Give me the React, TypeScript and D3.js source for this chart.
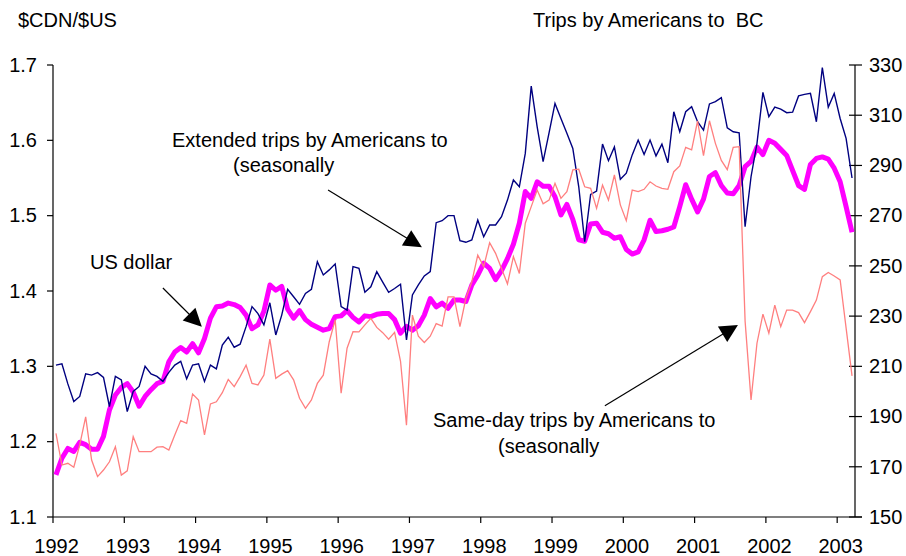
import React from 'react';
import * as d3 from 'd3';

// Monthly series, Jan 1992 .. Mar 2003
const years = ['1992', '1993', '1994', '1995', '1996', '1997', '1998', '1999', '2000', '2001', '2002', '2003'];
const leftTicks = [1.1, 1.2, 1.3, 1.4, 1.5, 1.6, 1.7];
const rightTicks = [150, 170, 190, 210, 230, 250, 270, 290, 310, 330];

// $CDN per $US (left axis)
const usDollar = [
  1.156, 1.178, 1.191, 1.187, 1.199, 1.196, 1.190, 1.190, 1.207, 1.242, 1.262, 1.272,
  1.277, 1.266, 1.247, 1.260, 1.269, 1.277, 1.280, 1.306, 1.319, 1.325, 1.319, 1.330,
  1.318, 1.337, 1.364, 1.379, 1.380, 1.384, 1.382, 1.378, 1.368, 1.350, 1.355, 1.373,
  1.408, 1.401, 1.406, 1.376, 1.364, 1.374, 1.362, 1.356, 1.352, 1.348, 1.350, 1.366,
  1.367, 1.374, 1.365, 1.359, 1.367, 1.366, 1.369, 1.370, 1.370, 1.362, 1.344, 1.353,
  1.348, 1.354, 1.368, 1.390, 1.379, 1.384, 1.377, 1.388, 1.388, 1.386, 1.408, 1.421,
  1.437, 1.430, 1.415, 1.427, 1.443, 1.462, 1.490, 1.532, 1.523, 1.545, 1.539, 1.539,
  1.525, 1.501, 1.515, 1.495, 1.468, 1.466, 1.489, 1.490, 1.478, 1.476, 1.470, 1.472,
  1.455, 1.449, 1.452, 1.468, 1.494, 1.479, 1.480, 1.482, 1.485, 1.512, 1.541, 1.522,
  1.505, 1.522, 1.552, 1.557, 1.540, 1.530, 1.529, 1.540, 1.565, 1.572, 1.591, 1.581,
  1.600, 1.596, 1.588, 1.580, 1.560, 1.540, 1.535, 1.568, 1.576, 1.578, 1.575, 1.563,
  1.545, 1.512, 1.478,
];

// Extended trips by Americans to BC, thousands (right axis)
const extendedTrips = [
  210.5, 211, 203, 196, 198, 207, 206.5, 207.5, 205.6, 194, 206, 204.6,
  192, 200, 202, 210, 207, 206, 204, 207.6, 210.5, 212, 205, 210.5,
  211, 204, 210.5, 209, 218.5, 221.6, 217.6, 218.8, 225.8, 233.8, 231, 226.5,
  235.3, 222.5, 230.4, 240.7, 237.7, 234.7, 239, 240.7, 251.7, 246.4, 248.4, 250.8,
  233.8, 232.4, 249.7, 249, 239.5, 241.7, 247.7, 243.5, 239.5, 241, 242.7, 220.5,
  238.4, 242.4, 246, 247.7, 267.2, 268, 270, 270, 260, 259.4, 260.3, 268.3,
  261.6, 266.3, 266.3, 269.6, 276.2, 284.2, 281.5, 294.8, 321.6, 305.4, 291.5, 303,
  314.7, 308.7, 302.8, 296.8, 281.5, 259.6, 278.5, 279.8, 298.5, 291.9, 297.4, 284.5,
  286.9, 294.2, 300.1, 294.4, 300.1, 293.8, 298.5, 291.1, 311.4, 303.4, 311.4, 313.4,
  307.4, 304.1, 314.5, 315.4, 317, 305, 303.4, 303, 265.6, 285.5, 298.8, 319.1,
  309.4, 313.2, 312.4, 311, 311.2, 317.7, 318.3, 318.7, 307.4, 329, 313.2, 318.7,
  308.7, 300.8, 285,
];

// Same-day trips by Americans to BC, thousands (right axis)
const sameDayTrips = [
  183.3, 170.7, 171.4, 169.8, 178.7, 189.9, 172.7, 166.1, 168.7, 172.0, 178.0, 166.7,
  168.4, 182.0, 176.0, 176.0, 176.0, 177.8, 178.0, 176.7, 182.7, 188.4, 187.3, 199.0,
  196.6, 182.7, 195.0, 195.9, 199.5, 204.8, 201.9, 205.9, 210.5, 203.2, 202.6, 206.5,
  220.8, 205.2, 206.9, 208.3, 204.6, 197.3, 193.3, 196.6, 203.2, 206.5, 219.8, 228.5,
  199.3, 217.2, 223.8, 223.7, 226.5, 229.1, 225.5, 223.4, 220.8, 223.5, 212, 186.6,
  230.4, 222, 219.5, 222, 227, 226, 237.7, 237.7, 225.8, 237.1, 243.7, 254.3,
  249.7, 259.2, 255, 249, 242.8, 253.7, 247, 267, 273.6, 280.2, 274.7, 276.2,
  282.9, 276.9, 279.6, 288.2, 288.5, 281.5, 280.9, 272.9, 282.2, 276.2, 286.2, 274.3,
  268, 280.2, 279.6, 280.5, 283.5, 281.8, 280.9, 280.5, 287.5, 289.8, 297.2, 296.2,
  307.7, 293.9, 307.8, 298.8, 292, 288.3, 297.2, 297.5, 228, 196.6, 219.2, 230.8,
  223.2, 234.4, 225.8, 232.4, 232.4, 231.4, 227.4, 231.8, 236.4, 245.7, 247.4, 246,
  244.4, 225.3, 206.2,
];

const FONT = '"Liberation Sans", Arial, Helvetica, sans-serif';

function Arrow({ x1, y1, x2, y2 }: { x1: number; y1: number; x2: number; y2: number }) {
  const dx = x2 - x1;
  const dy = y2 - y1;
  const len = Math.sqrt(dx * dx + dy * dy);
  const ux = dx / len;
  const uy = dy / len;
  const headLen = 18;
  const headHalf = 9;
  const bx = x2 - ux * headLen;
  const by = y2 - uy * headLen;
  const nx = -uy;
  const ny = ux;
  const pts = [
    [x2, y2],
    [bx + nx * headHalf, by + ny * headHalf],
    [bx - nx * headHalf, by - ny * headHalf],
  ]
    .map((p) => p.join(','))
    .join(' ');
  return (
    <g>
      <line x1={x1} y1={y1} x2={bx + ux * 2} y2={by + uy * 2} stroke="#000" strokeWidth={1.2} />
      <polygon points={pts} fill="#000" />
    </g>
  );
}

export default function App() {
  const W = 906;
  const H = 556;
  const left = 53;
  const right = 855;
  const top = 65;
  const bottom = 517;

  const x = d3.scaleLinear().domain([0, 135]).range([left, right]);
  const yL = d3.scaleLinear().domain([1.1, 1.7]).range([bottom, top]);
  const yR = d3.scaleLinear().domain([150, 330]).range([bottom, top]);

  const lineL = d3
    .line<number>()
    .x((_, i) => x(i + 0.5))
    .y((d) => yL(d));
  const lineR = d3
    .line<number>()
    .x((_, i) => x(i + 0.5))
    .y((d) => yR(d));

  // annotation arrows in data coordinates (month index, $CDN/$US)
  const arrows = [
    { m1: 46.3, v1: 1.534, m2: 62.1, v2: 1.458 },
    { m1: 18.5, v1: 1.404, m2: 25.05, v2: 1.3525 },
    { m1: 92.9, v1: 1.2478, m2: 115.3, v2: 1.355 },
  ];

  const fs = 20;

  return (
    <svg
      width={W}
      height={H}
      style={{ position: 'absolute', left: 0, top: 0, background: '#fff' }}
      fontFamily={FONT}
    >
      <rect x={0} y={0} width={W} height={H} fill="#fff" />

      {/* axis titles */}
      <text x={18} y={27} fontSize={fs} fill="#000">
        $CDN/$US
      </text>
      <text x={533} y={27} fontSize={fs} fill="#000" style={{ whiteSpace: 'pre' }} xmlSpace="preserve">
        {'Trips by Americans to  BC'}
      </text>

      {/* axes */}
      <line x1={left} y1={top} x2={left} y2={bottom} stroke="#000" strokeWidth={1.2} />
      <line x1={right} y1={top} x2={right} y2={bottom} stroke="#000" strokeWidth={1.2} />
      <line x1={left} y1={bottom} x2={right + 7} y2={bottom} stroke="#000" strokeWidth={1.2} />

      {leftTicks.map((t) => (
        <g key={'l' + t}>
          <line x1={left - 6} x2={left} y1={yL(t)} y2={yL(t)} stroke="#000" strokeWidth={1.2} />
          <text x={37} y={yL(t) + 6.8} fontSize={fs} textAnchor="end" fill="#000">
            {t.toFixed(1)}
          </text>
        </g>
      ))}
      {rightTicks.map((t) => (
        <g key={'r' + t}>
          <line x1={right - 6} x2={right + 7} y1={yR(t)} y2={yR(t)} stroke="#000" strokeWidth={1.2} />
          <text x={869} y={yR(t) + 6.8} fontSize={fs} textAnchor="start" fill="#000">
            {t}
          </text>
        </g>
      ))}
      {years.map((yr, k) => (
        <g key={yr}>
          <line x1={x(k * 12)} x2={x(k * 12)} y1={bottom} y2={bottom + 6} stroke="#000" strokeWidth={1.2} />
          <text x={x(k * 12 + 0.6)} y={553} fontSize={fs} textAnchor="middle" fill="#000">
            {yr}
          </text>
        </g>
      ))}

      {/* series */}
      <path d={lineL(usDollar) || ''} fill="none" stroke="#FF00FF" strokeWidth={5} strokeLinejoin="round" />
      <path d={lineR(extendedTrips) || ''} fill="none" stroke="#000080" strokeWidth={1.4} strokeLinejoin="miter" />
      <path d={lineR(sameDayTrips) || ''} fill="none" stroke="#FF7F7F" strokeWidth={1.3} strokeLinejoin="miter" />

      {/* annotations */}
      <text x={172} y={147} fontSize={fs} fill="#000">
        Extended trips by Americans to
      </text>
      <text x={233} y={172} fontSize={fs} fill="#000">
        (seasonally
      </text>
      <text x={90} y={269} fontSize={fs} fill="#000">
        US dollar
      </text>
      <text x={433} y={427} fontSize={fs} fill="#000">
        Same-day trips by Americans to
      </text>
      <text x={498} y={453} fontSize={fs} fill="#000">
        (seasonally
      </text>
      {arrows.map((a, i) => (
        <Arrow key={i} x1={x(a.m1)} y1={yL(a.v1)} x2={x(a.m2)} y2={yL(a.v2)} />
      ))}
    </svg>
  );
}
